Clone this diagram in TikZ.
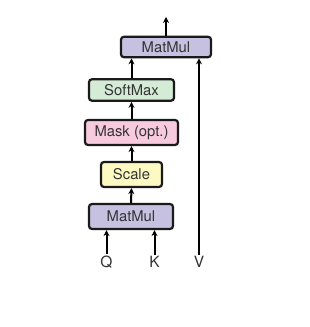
\documentclass[tikz,border=0pt]{standalone}
\usepackage{fontspec}
\setmainfont{TeX Gyre Heros}
\usetikzlibrary{arrows.meta}
\definecolor{mmcol}{HTML}{C7C1E1}
\definecolor{smcol}{HTML}{D4EBD6}
\definecolor{mkcol}{HTML}{F8CADE}
\definecolor{sccol}{HTML}{FDF9C3}
\definecolor{txtcol}{HTML}{333333}
\definecolor{bordcol}{HTML}{1A1A1A}
\tikzset{
  opbox/.style={draw=bordcol, line width=2.2pt, rounded corners=3pt, inner sep=0pt,
    font=\fontsize{14.8}{17}\selectfont, text=txtcol, align=center},
  lbl/.style={font=\fontsize{15.5}{17}\selectfont, text=txtcol, inner sep=1.5pt},
  arr/.style={line width=2pt, draw=black, -{Stealth[length=6pt,width=6pt]}}
}
\begin{document}
\begin{tikzpicture}[x=1pt,y=1pt]
\useasboundingbox (0,0) rectangle (309,327);
\node[opbox, fill=mmcol, minimum width=90pt, minimum height=20.5pt] (mm2) at (166,280) {MatMul};
\node[opbox, fill=smcol, minimum width=85pt, minimum height=21.5pt] (sm) at (131.5,237) {SoftMax};
\node[opbox, fill=mkcol, minimum width=93pt, minimum height=25pt] (mk) at (131.5,194.5) {Mask (opt.)};
\node[opbox, fill=sccol, minimum width=61pt, minimum height=25pt] (sc) at (131.5,152.5) {Scale};
\node[opbox, fill=mmcol, minimum width=84pt, minimum height=25pt] (mm1) at (131,110.5) {MatMul};
\node[lbl] (q) at (106.5,65) {Q};
\node[lbl] (k) at (154.5,65) {K};
\node[lbl] (v) at (199,65) {V};
\coordinate (out) at (166,310);
\draw[arr] (q.north) -- (q.north |- mm1.south);
\draw[arr] (k.north) -- (k.north |- mm1.south);
\draw[arr] (v.north) -- (v.north |- mm2.south);
\draw[arr] (mm1.north) -- (sc.south);
\draw[arr] (sc.north) -- (mk.south);
\draw[arr] (mk.north) -- (sm.south);
\draw[arr] (sm.north) -- (sm.north |- mm2.south);
\draw[arr] (mm2.north) -- (out);
\end{tikzpicture}
\end{document}
